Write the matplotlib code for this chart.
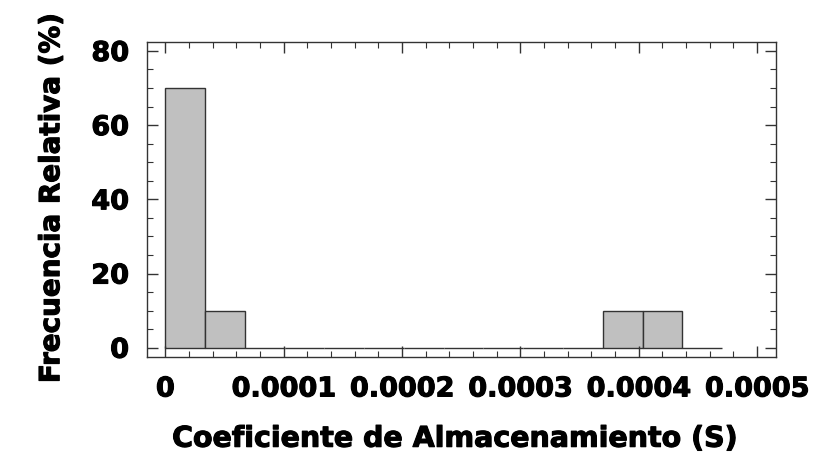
import numpy as np
import matplotlib.pyplot as plt
from matplotlib.ticker import MultipleLocator, FixedFormatter, FixedLocator
import matplotlib.patheffects as pe

# histogram of storage coefficient (S), relative frequency in %
bin_width = 0.0000336
n_bins = 14
freq = [70, 10, 0, 0, 0, 0, 0, 0, 0, 0, 0, 10, 10, 0]
xticks = [0, 0.0001, 0.0002, 0.0003, 0.0004, 0.0005]
xticklabels = ['0', '0.0001', '0.0002', '0.0003', '0.0004', '0.0005']
yticks = [0, 20, 40, 60, 80]

edges = np.arange(n_bins) * bin_width

plt.rcParams['font.family'] = ['DejaVu Sans']
heavy = [pe.withStroke(linewidth=0.8, foreground='black')]

fig = plt.figure(figsize=(8.25, 4.57), dpi=100)
ax = fig.add_axes([147/825, 1 - 357/457, (776-147)/825, (357-42)/457])

ax.bar(edges, freq, width=bin_width, align='edge', color='#c0c0c0',
       edgecolor='#333333', linewidth=1.0)

ax.set_xlim(-0.0000155, 0.000516)
ax.set_ylim(-2.5, 82.4)

ax.xaxis.set_major_locator(FixedLocator(xticks))
ax.xaxis.set_major_formatter(FixedFormatter(xticklabels))
ax.xaxis.set_minor_locator(MultipleLocator(0.00002))
ax.yaxis.set_major_locator(FixedLocator(yticks))
ax.yaxis.set_minor_locator(MultipleLocator(5))

ax.tick_params(which='both', direction='in', top=True, right=True, color='#333333')
ax.tick_params(which='major', length=8, width=1)
ax.tick_params(which='minor', length=4, width=0.8)
ax.tick_params(axis='x', pad=14)
ax.tick_params(axis='y', pad=13)
for lab in ax.get_xticklabels() + ax.get_yticklabels():
    lab.set_fontsize(19.5)
    lab.set_fontweight('bold')
    lab.set_path_effects(heavy)

for s in ax.spines.values():
    s.set_color('#333333')
    s.set_linewidth(1.0)

ax.set_xlabel('Coeficiente de Almacenamiento (S)', fontsize=20.5, fontweight='bold',
              path_effects=heavy)
ax.set_ylabel('Frecuencia Relativa (%)', fontsize=20, fontweight='bold',
              path_effects=heavy)
ax.xaxis.set_label_coords(0.49, -0.215)
ax.yaxis.set_label_coords(-0.13, 0.505)

plt.savefig('out.png', dpi=100)
